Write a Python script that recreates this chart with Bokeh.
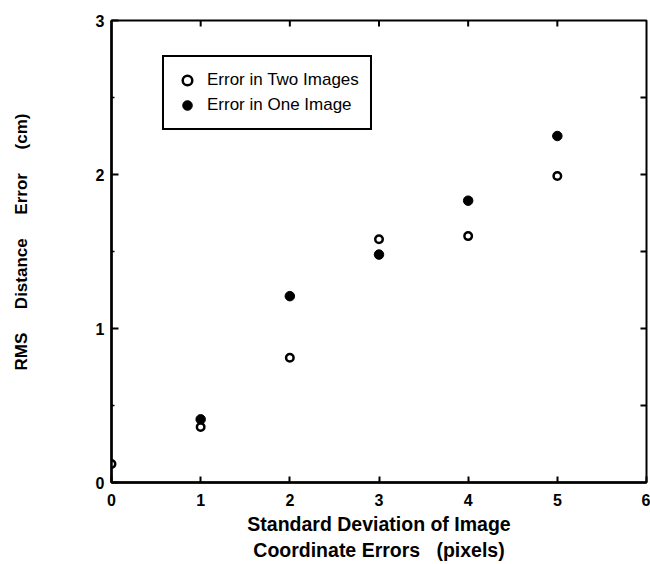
import math
from bokeh.plotting import figure
from bokeh.models import Range1d, FixedTicker, Legend, LegendItem
from bokeh.embed import file_html
from bokeh.resources import INLINE

# data
x_two = [0, 1, 2, 3, 4, 5]
err_two_images = [0.12, 0.36, 0.81, 1.58, 1.60, 1.99]
x_one = [1, 2, 3, 4, 5]
err_one_image = [0.41, 1.21, 1.48, 1.83, 2.25]

x_ticks = [0, 1, 2, 3, 4, 5, 6]
y_ticks = [0, 1, 2, 3]
y_minor = [0.5, 1.5, 2.5]
right_ticks = [0.5, 1, 1.5, 2, 2.5]
top_ticks = [1, 2, 3, 4, 5]

nb = "\u00a0"
x_title = "Standard Deviation of Image\nCoordinate Errors" + nb * 3 + "(pixels)"
gap = nb * 5
y_title = nb * 4 + "RMS" + gap + "Distance" + gap + "Error" + gap + "(cm)"

FONT = "Liberation Sans"
X0, X1 = 0, 6
Y0, Y1 = 0, 3

p = figure(width=650, height=564, output_backend="svg", toolbar_location=None,
           x_range=Range1d(X0, X1), y_range=Range1d(Y0, Y1),
           x_axis_label=x_title, y_axis_label=y_title,
           min_border_left=111, min_border_right=4, min_border_top=20, min_border_bottom=82)

p.grid.visible = False
p.outline_line_color = "black"
p.outline_line_width = 2
p.background_fill_color = "white"
p.border_fill_color = "white"

xa = p.xaxis[0]
xa.ticker = FixedTicker(ticks=x_ticks, minor_ticks=[])
ya = p.yaxis[0]
ya.ticker = FixedTicker(ticks=y_ticks, minor_ticks=y_minor)

for ax in (xa, ya):
    ax.axis_line_color = "black"
    ax.axis_line_width = 2.5
    ax.major_tick_line_color = "black"
    ax.major_tick_line_width = 2
    ax.major_tick_out = 0
    ax.minor_tick_out = 0
    ax.minor_tick_in = 3
    ax.minor_tick_line_color = "black"
    ax.minor_tick_line_width = 1.5
    ax.major_label_text_font = FONT
    ax.major_label_text_font_style = "bold"
    ax.major_label_text_font_size = "16px"
    ax.major_label_text_color = "black"
    ax.axis_label_text_font = FONT
    ax.axis_label_text_font_style = "bold"
    ax.axis_label_text_color = "black"

xa.major_tick_in = 6
ya.major_tick_in = 7
xa.major_label_standoff = 11
ya.major_label_standoff = 7
xa.axis_label_text_font_size = "19.5px"
ya.axis_label_text_font_size = "17px"
xa.axis_label_standoff = 4
ya.axis_label_standoff = 62

# inward ticks on the top and right edges (half of each dash is clipped by the frame)
p.scatter(top_ticks, [Y1] * len(top_ticks), marker="dash", size=12, angle=math.pi / 2,
          line_color="black", line_width=2)
p.scatter([X1] * len(right_ticks), right_ticks, marker="dash", size=12,
          line_color="black", line_width=2)

r_two = p.scatter(x_two, err_two_images, marker="circle", size=7.5,
                  fill_color="white", line_color="black", line_width=2.5)
r_one = p.scatter(x_one, err_one_image, marker="circle", size=9.5,
                  fill_color="black", line_color="black", line_width=1)

legend = Legend(items=[LegendItem(label="Error in Two Images", renderers=[r_two]),
                       LegendItem(label="Error in One Image", renderers=[r_one])],
                location=(51, 352))
legend.label_text_font = FONT
legend.label_text_font_size = "17px"
legend.label_text_color = "black"
legend.padding = 11
legend.spacing = 1
legend.glyph_width = 24
legend.glyph_height = 24
legend.label_height = 24
legend.label_standoff = 8
legend.border_line_color = "black"
legend.border_line_width = 2
legend.border_line_alpha = 1
legend.background_fill_color = "white"
legend.background_fill_alpha = 1
legend.margin = 0
p.add_layout(legend, "center")

open("out.html", "w").write(file_html(p, INLINE))
